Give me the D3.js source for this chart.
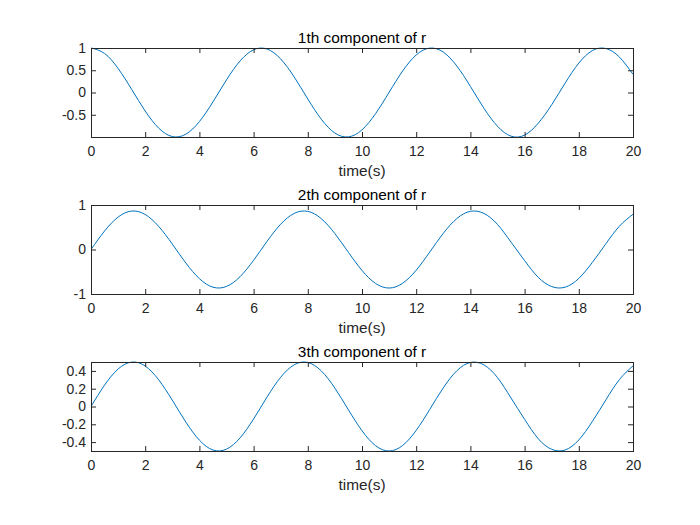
<!DOCTYPE html>
<html>
<head>
<meta charset="utf-8">
<script src="https://cdn.jsdelivr.net/npm/d3@7"></script>
<style>
  html, body { margin: 0; padding: 0; background: #fff; }
  svg { display: block; }
</style>
</head>
<body>
<svg id="chart" width="700" height="525"></svg>
<script>
// ---- data ----
const time = [0,0.5,1,1.5,2,2.5,3,3.5,4,4.5,5,5.5,6,6.5,7,7.5,8,8.5,9,9.5,10,
  10.5,11,11.5,12,12.5,13,13.5,14,14.5,15,15.5,16,16.5,17,17.5,18,18.5,19,19.5,20];
const r1 = [1,0.8776,0.5403,0.0707,-0.4161,-0.8011,-0.9900,-0.9365,-0.6536,-0.2108,0.2837,
  0.7087,0.9602,0.9766,0.7539,0.3466,-0.1455,-0.6020,-0.9111,-0.9972,-0.8391,
  -0.4755,0.0044,0.4833,0.8439,0.9978,0.9074,0.5949,0.1367,-0.3549,-0.7597,
  -0.9817,-0.9577,-0.6929,-0.2752,0.2151,0.6603,0.9422,0.9887,0.7958,0.4081];
const r2 = [0,0.415,0.729,0.864,0.787,0.518,0.122,-0.304,-0.655,-0.847,-0.830,
  -0.611,-0.242,0.186,0.569,0.812,0.857,0.692,0.357,-0.065,-0.471,
  -0.762,-0.866,-0.758,-0.465,-0.057,0.364,0.696,0.858,0.810,0.563,
  0.165,-0.249,-0.624,-0.833,-0.846,-0.650,-0.290,0.130,0.524,0.791];
const r3 = [0,0.240,0.421,0.499,0.455,0.299,0.071,-0.175,-0.378,-0.489,-0.479,
  -0.353,-0.140,0.108,0.329,0.469,0.495,0.399,0.206,-0.038,-0.272,
  -0.440,-0.500,-0.438,-0.268,-0.033,0.210,0.402,0.495,0.467,0.325,
  0.095,-0.144,-0.361,-0.481,-0.488,-0.376,-0.168,0.075,0.303,0.456];
const titles = ["1th component of r", "2th component of r", "3th component of r"];
const xLabel = "time(s)";
const xDomain = [0, 20];
const xTicks = [0,2,4,6,8,10,12,14,16,18,20];
const yDomain1 = [-1, 1];
const yDomain2 = [-1, 1];
const yDomain3 = [-0.5, 0.5];
const yTicks1 = [-0.5, 0, 0.5, 1];
const yTicks2 = [-1, 0, 1];
const yTicks3 = [-0.4, -0.2, 0, 0.2, 0.4];

// ---- layout ----
const svg = d3.select("#chart");
const left = 91, right = 633;
const panels = [
  {top: 48, bottom: 137, y: r1, dom: yDomain1, ticks: yTicks1, title: titles[0]},
  {top: 205, bottom: 294, y: r2, dom: yDomain2, ticks: yTicks2, title: titles[1]},
  {top: 362, bottom: 451, y: r3, dom: yDomain3, ticks: yTicks3, title: titles[2]}
];
const axisColor = "#262626";
const fontFam = "'Liberation Sans', Arial, Helvetica, sans-serif";
const tickLen = 5;

const x = d3.scaleLinear().domain(xDomain).range([left, right]);
const fmt = d => String(d);

panels.forEach((p, i) => {
  const y = d3.scaleLinear().domain(p.dom).range([p.bottom, p.top]);
  const g = svg.append("g");

  const clipId = "clip" + i;
  svg.append("clipPath").attr("id", clipId).append("rect")
    .attr("x", left).attr("y", p.top - 1).attr("width", right - left).attr("height", p.bottom - p.top + 2);

  // line
  const line = d3.line().x((d, j) => x(time[j])).y(d => y(d)).curve(d3.curveNatural);
  g.append("path").datum(p.y)
    .attr("clip-path", `url(#${clipId})`)
    .attr("fill", "none").attr("stroke", "#0072BD").attr("stroke-width", 1)
    .attr("d", line);

  // axes
  const styleAxis = sel => {
    sel.select(".domain").remove();
    sel.selectAll("line").attr("stroke", axisColor);
    sel.selectAll("text").attr("fill", axisColor)
      .style("font-family", fontFam).style("font-size", "14px");
  };
  g.append("g").attr("transform", `translate(0,${p.bottom})`)
    .call(d3.axisBottom(x).tickValues(xTicks).tickFormat(fmt).tickSize(-tickLen).tickPadding(9))
    .call(styleAxis);
  g.append("g").attr("transform", `translate(0,${p.top})`)
    .call(d3.axisTop(x).tickValues(xTicks).tickFormat("").tickSize(-tickLen))
    .call(styleAxis);
  g.append("g").attr("transform", `translate(${left},0)`)
    .call(d3.axisLeft(y).tickValues(p.ticks).tickFormat(fmt).tickSize(-tickLen).tickPadding(5))
    .call(styleAxis);
  g.append("g").attr("transform", `translate(${right},0)`)
    .call(d3.axisRight(y).tickValues(p.ticks).tickFormat("").tickSize(-tickLen))
    .call(styleAxis);

  // box
  g.append("rect").attr("x", left).attr("y", p.top)
    .attr("width", right - left).attr("height", p.bottom - p.top)
    .attr("fill", "none").attr("stroke", axisColor).attr("stroke-width", 1)
    .attr("shape-rendering", "crispEdges");

  // title
  g.append("text").attr("x", (left + right) / 2).attr("y", p.top - 5)
    .attr("text-anchor", "middle").attr("fill", "#000")
    .style("font-family", fontFam).style("font-size", "15.4px")
    .text(p.title);

  // x label
  g.append("text").attr("x", (left + right) / 2).attr("y", p.bottom + 39)
    .attr("text-anchor", "middle").attr("fill", axisColor)
    .style("font-family", fontFam).style("font-size", "15.4px")
    .text(xLabel);
});
</script>
</body>
</html>
